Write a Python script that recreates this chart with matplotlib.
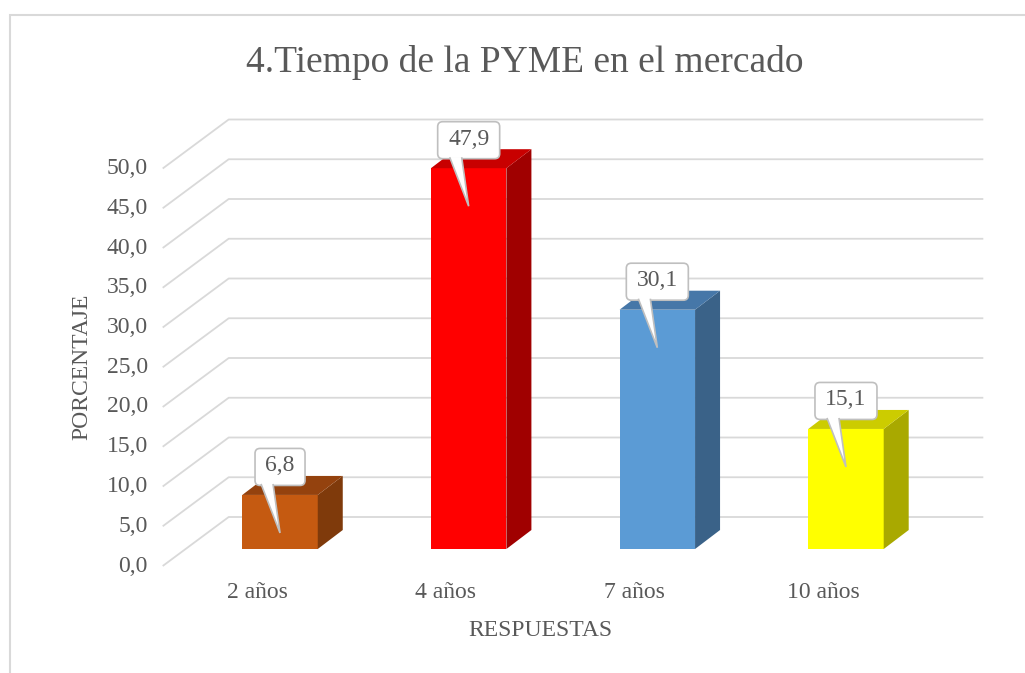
import numpy as np
import matplotlib
matplotlib.use("Agg")
import matplotlib.pyplot as plt
from matplotlib.patches import Polygon, FancyBboxPatch, Rectangle

# Data
categories = ["2 años", "4 años", "7 años", "10 años"]
values = [6.8, 47.9, 30.1, 15.1]
y_ticks = [0, 5, 10, 15, 20, 25, 30, 35, 40, 45, 50]
title = "4.Tiempo de la PYME en el mercado"
x_label = "RESPUESTAS"
y_label = "PORCENTAJE"

# Colours (front, top, side) for each bar
front_cols = ["#C55A11", "#FF0000", "#5B9BD5", "#FFFF00"]
top_cols = ["#94420E", "#C80000", "#4677A8", "#CCCC00"]
side_cols = ["#7F3A0B", "#A00000", "#3A6288", "#A9A900"]

text_col = "#595959"
grid_col = "#D9D9D9"
plt.rcParams["font.family"] = ["Liberation Serif", "DejaVu Serif"]

W, H = 1025, 673
fig = plt.figure(figsize=(W / 100, H / 100), dpi=100)

# axes = plane of the bar front faces (pixels)
ax_left, ax_right = 185.7, 940.3
ax_bottom, ax_top = 549.0, 151.5
ax = fig.add_axes([ax_left / W, (H - ax_bottom) / H,
                   (ax_right - ax_left) / W, (ax_bottom - ax_top) / H])
xpos = np.arange(len(categories))
ax.set_xlim(-0.5, len(categories) - 0.5)
ax.set_ylim(0, 50)
ax.axis("off")

# data units per pixel
ux = (len(categories)) / (ax_right - ax_left)
uy = 50 / (ax_bottom - ax_top)


def shift(x, y, dx, dy):
    # dx to the right, dy upwards, both in pixels
    return (x + dx * ux, y + dy * uy)


FRONT = (-23, -17)   # front edge of floor / left wall
BACK = (43, 32)      # back wall
DEPTH = (25, 19)     # bar depth
x0, x1 = -0.5, len(categories) - 0.5

# grid on the left wall and back wall
for v in y_ticks:
    p = [shift(x0, v, *FRONT), shift(x0, v, *BACK), shift(x1, v, *BACK)]
    ax.plot([q[0] for q in p], [q[1] for q in p], color=grid_col, lw=1.3,
            clip_on=False, zorder=1, solid_capstyle="butt")
    tx, ty = shift(x0, v, FRONT[0] - 15, FRONT[1])
    ax.text(tx, ty, f"{v:.1f}".replace(".", ","), ha="right", va="center",
            fontsize=17, color=text_col)

# bars
bw = 0.4
ax.bar(xpos, values, width=bw, color=front_cols, zorder=3)
for i, v in enumerate(values):
    xl, xr = xpos[i] - bw / 2, xpos[i] + bw / 2
    side = [(xr, 0), (xr, v), shift(xr, v, *DEPTH), shift(xr, 0, *DEPTH)]
    top = [(xl, v), (xr, v), shift(xr, v, *DEPTH), shift(xl, v, *DEPTH)]
    ax.add_patch(Polygon(side, closed=True, fc=side_cols[i], ec="none",
                         zorder=3, clip_on=False))
    ax.add_patch(Polygon(top, closed=True, fc=top_cols[i], ec="none",
                         zorder=3, clip_on=False))

# callout labels
for i, v in enumerate(values):
    lab = f"{v:.1f}".replace(".", ",")
    bwid = (12 * len(lab) + 14) * ux
    bht = 37 * uy
    cx, cy = shift(xpos[i], v, 0, 28)
    box = FancyBboxPatch((cx - bwid / 2, cy - bht / 2), bwid, bht,
                         boxstyle=f"round,pad=0,rounding_size={5 * ux}",
                         mutation_aspect=uy / ux, fc="white", ec="#BFBFBF",
                         lw=1.2, zorder=5, clip_on=False)
    ax.add_patch(box)
    by = cy - bht / 2
    p_a = shift(xpos[i], by, -7, 1.5)
    p_b = shift(xpos[i], by, -19, 1.5)
    tip = shift(xpos[i], v, 0, -38)
    ax.add_patch(Polygon([p_a, tip, p_b], closed=False, fc="white",
                         ec="#BFBFBF", lw=1.2, zorder=6, clip_on=False))
    ax.text(cx, cy + 1 * uy, lab, ha="center", va="center", fontsize=17,
            color=text_col, zorder=7)

# category labels on the front edge of the floor
for i, c in enumerate(categories):
    tx, ty = shift(xpos[i], 0, FRONT[0], FRONT[1] - 26)
    ax.text(tx, ty, c, ha="center", va="center", fontsize=17, color=text_col)

mx, my = shift((x0 + x1) / 2, 0, FRONT[0], FRONT[1] - 64)
ax.text(mx, my, x_label, ha="center", va="center", fontsize=17,
        color=text_col)
lx, ly = shift(x0, 25, -104, FRONT[1])
ax.text(lx, ly, y_label, ha="center", va="center", rotation=90,
        fontsize=17, color=text_col)

fig.text(525 / W, 1 - 62 / H, title, ha="center", va="center",
         fontsize=27, color=text_col)

# outer chart frame
fig.patches.append(Rectangle((10 / W, -0.05), 1.05, 1 - 15 / H + 0.05,
                             transform=fig.transFigure, fill=False,
                             ec=grid_col, lw=1.5))

fig.savefig("out.png", dpi=100)
